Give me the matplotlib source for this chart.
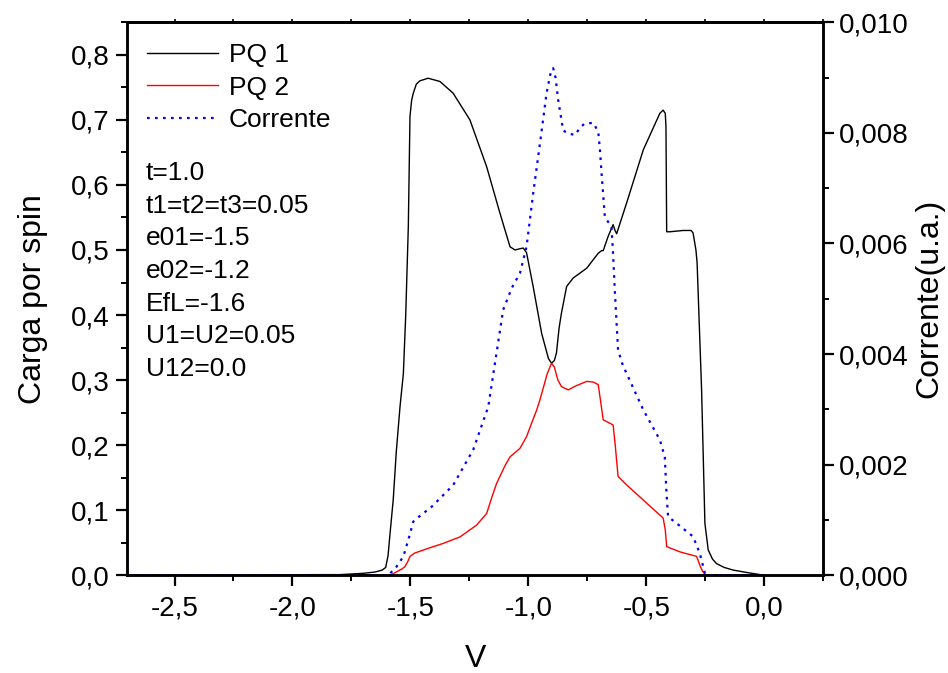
import numpy as np
import matplotlib
matplotlib.use('Agg')
import matplotlib.pyplot as plt
from matplotlib.ticker import MultipleLocator, FuncFormatter, NullFormatter

plt.rcParams['font.family'] = ['Liberation Sans', 'DejaVu Sans']

# PQ 1 (carga por spin, eixo esquerdo)
v_pq1 = [-2.70, -2.20, -1.90, -1.80, -1.70, -1.65, -1.62, -1.605, -1.595, -1.585,
         -1.573, -1.56, -1.544, -1.53, -1.52, -1.509, -1.502, -1.495, -1.488, -1.475,
         -1.46, -1.425, -1.375, -1.319, -1.248, -1.177, -1.121, -1.078, -1.057, -1.035,
         -1.022, -1.008, -0.98, -0.944, -0.915, -0.902, -0.89, -0.881, -0.87, -0.86,
         -0.838, -0.81, -0.753, -0.704, -0.69, -0.683, -0.662, -0.641, -0.633, -0.626,
         -0.584, -0.513, -0.443, -0.429, -0.42, -0.417, -0.414, -0.40, -0.344, -0.31,
         -0.302, -0.29, -0.285, -0.266, -0.252, -0.238, -0.22, -0.203, -0.17, -0.132,
         -0.07, 0.0]
q_pq1 = [0.0, 0.0005, 0.001, 0.001, 0.003, 0.005, 0.008, 0.012, 0.03, 0.07,
         0.116, 0.19, 0.26, 0.31, 0.40, 0.536, 0.705, 0.73, 0.741, 0.755,
         0.760, 0.764, 0.759, 0.741, 0.700, 0.628, 0.557, 0.505, 0.500, 0.502,
         0.503, 0.496, 0.444, 0.372, 0.333, 0.326, 0.33, 0.342, 0.38, 0.403,
         0.444, 0.457, 0.472, 0.495, 0.499, 0.499, 0.521, 0.539, 0.53, 0.525,
         0.572, 0.654, 0.710, 0.715, 0.71, 0.69, 0.528, 0.528, 0.530, 0.530,
         0.526, 0.50, 0.480, 0.285, 0.080, 0.039, 0.025, 0.018, 0.012, 0.008,
         0.004, 0.0]

# PQ 2
v_pq2 = [-2.70, -1.60, -1.587, -1.56, -1.535, -1.524, -1.51, -1.502, -1.483, -1.42,
         -1.361, -1.29, -1.22, -1.177, -1.155, -1.135, -1.10, -1.078, -1.036, -1.008,
         -0.98, -0.965, -0.951, -0.92, -0.902, -0.89, -0.875, -0.86, -0.831, -0.80,
         -0.753, -0.725, -0.704, -0.695, -0.683, -0.641, -0.632, -0.62, -0.584, -0.499,
         -0.429, -0.42, -0.414, -0.358, -0.287, -0.274, -0.262, -0.252, -0.24, 0.0]
q_pq2 = [0.0, 0.0, 0.0, 0.005, 0.01, 0.013, 0.022, 0.029, 0.034, 0.042,
         0.049, 0.059, 0.077, 0.095, 0.12, 0.141, 0.168, 0.182, 0.195, 0.213,
         0.24, 0.254, 0.270, 0.31, 0.326, 0.32, 0.30, 0.290, 0.285, 0.291,
         0.298, 0.297, 0.293, 0.27, 0.239, 0.231, 0.20, 0.152, 0.139, 0.111,
         0.088, 0.07, 0.044, 0.036, 0.029, 0.016, 0.006, 0.002, 0.0, 0.0]

# Corrente (eixo direito)
v_cor = [-2.70, -1.60, -1.594, -1.56, -1.53, -1.509, -1.488, -1.45, -1.417, -1.319,
         -1.234, -1.17, -1.107, -1.07, -1.036, -1.008, -0.98, -0.951, -0.923, -0.905,
         -0.895, -0.885, -0.874, -0.853, -0.838, -0.803, -0.78, -0.761, -0.725, -0.704,
         -0.697, -0.69, -0.676, -0.648, -0.641, -0.634, -0.62, -0.60, -0.584, -0.513,
         -0.443, -0.422, -0.415, -0.408, -0.372, -0.302, -0.274, -0.252, -0.24, 0.0]
i_cor = [0.0, 0.0, 0.0, 0.00015, 0.00034, 0.00064, 0.00097, 0.00111, 0.00121, 0.00163,
         0.00227, 0.00305, 0.0048, 0.0052, 0.00546, 0.00594, 0.0069, 0.00781, 0.00872, 0.0091,
         0.00917, 0.0090, 0.0086, 0.00805, 0.0080, 0.00796, 0.0081, 0.00817, 0.00818, 0.00802,
         0.0077, 0.00727, 0.00648, 0.0063, 0.0058, 0.00516, 0.00407, 0.0038, 0.00365, 0.00299,
         0.00245, 0.00214, 0.0015, 0.00106, 0.00094, 0.0007, 0.0004, 0.00004, 0.0, 0.0]

params = ['t=1.0', 't1=t2=t3=0.05', 'e01=-1.5', 'e02=-1.2', 'EfL=-1.6',
          'U1=U2=0.05', 'U12=0.0']

comma = lambda fmt: FuncFormatter(lambda x, p: (fmt % x).replace('.', ','))

fig = plt.figure(figsize=(9.48, 6.73), dpi=100)
ax = fig.add_axes([0.1343, 0.1452, 0.7342, 0.8217])
ax2 = ax.twinx()

l1, = ax.plot(v_pq1, q_pq1, color='black', lw=1.0, label='PQ 1')
l2, = ax.plot(v_pq2, q_pq2, color='red', lw=1.0, label='PQ 2')
l3, = ax2.plot(v_cor, i_cor, color='blue', lw=1.6, ls=(0, (1.2, 2.4)), label='Corrente')

ax.set_xlim(-2.7, 0.25)
ax.set_ylim(0, 0.85)
ax2.set_ylim(0, 0.010)

ax.xaxis.set_major_locator(MultipleLocator(0.5))
ax.xaxis.set_minor_locator(MultipleLocator(0.25))
ax.yaxis.set_major_locator(MultipleLocator(0.1))
ax.yaxis.set_minor_locator(MultipleLocator(0.05))
ax2.yaxis.set_major_locator(MultipleLocator(0.002))
ax2.yaxis.set_minor_locator(MultipleLocator(0.001))
ax.xaxis.set_major_formatter(comma('%.1f'))
ax.yaxis.set_major_formatter(comma('%.1f'))
ax2.yaxis.set_major_formatter(comma('%.3f'))

for a in (ax, ax2):
    for s in a.spines.values():
        s.set_linewidth(1.8)
ax.tick_params(which='major', direction='out', length=8, width=1.6, labelsize=20)
ax.tick_params(which='minor', direction='out', length=4, width=1.4)
ax.tick_params(axis='x', which='major', pad=6.5)
ax.tick_params(axis='y', which='major', pad=5)
ax2.tick_params(which='major', direction='out', length=8, width=1.6, labelsize=20)
ax2.tick_params(which='minor', direction='out', length=4, width=1.4)

# pequenos ticks no topo
top = ax.secondary_xaxis('top')
top.xaxis.set_major_locator(MultipleLocator(0.25))
top.xaxis.set_major_formatter(NullFormatter())
top.tick_params(direction='out', length=2.5, width=1.2)
top.spines['top'].set_linewidth(1.8)

ax.set_xlabel('V', fontsize=23, labelpad=16)
ax.set_ylabel('Carga por spin', fontsize=23, labelpad=16)
ax2.set_ylabel('Corrente(u.a.)', fontsize=23, labelpad=4)

ax.legend([l1, l2, l3], ['PQ 1', 'PQ 2', 'Corrente'], loc='upper left',
          bbox_to_anchor=(0.028, 0.962), frameon=False, fontsize=19,
          handlelength=2.7, handletextpad=0.4, labelspacing=0.32,
          borderpad=0, borderaxespad=0)

for k, txt in enumerate(params):
    ypx = 173 + 32.7 * k
    ax.text(0.027, (575.3 - ypx) / 553, txt, transform=ax.transAxes,
            fontsize=19, va='center', ha='left')

fig.savefig('out.png', dpi=100)
